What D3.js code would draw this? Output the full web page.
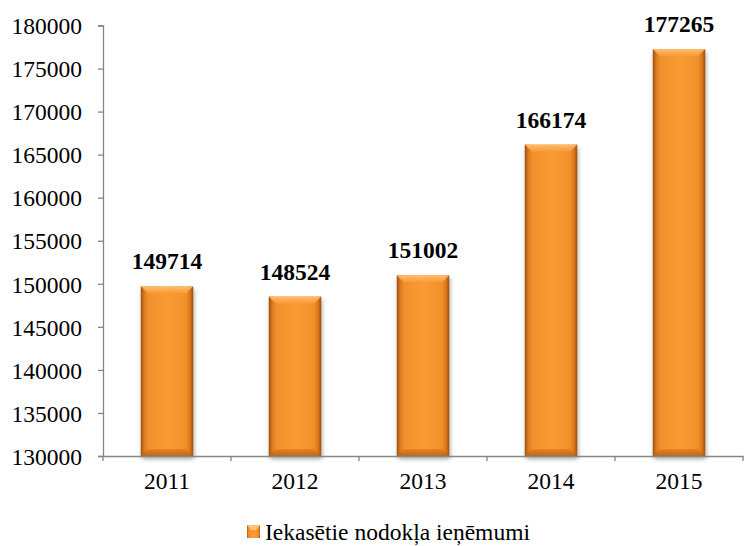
<!DOCTYPE html>
<html>
<head>
<meta charset="utf-8">
<script src="https://cdn.jsdelivr.net/npm/d3@7"></script>
<style>
  html, body { margin: 0; padding: 0; background: #fff; }
  svg { display: block; }
  svg text { font-family: "Liberation Serif", "Times New Roman", serif; fill: #000; }
</style>
</head>
<body>
<svg id="chart" width="744" height="546"></svg>
<script>
// Tax revenue collected, by year
const years = ["2011", "2012", "2013", "2014", "2015"];
const revenue = [149714, 148524, 151002, 166174, 177265];
const yTicks = [130000, 135000, 140000, 145000, 150000, 155000, 160000, 165000, 170000, 175000, 180000];
const seriesName = "Iekasētie nodokļa ieņēmumi";

const svg = d3.select("#chart");
const margin = { left: 103, right: 1, top: 25.5, bottom: 90 };
const W = 744, H = 546;
const serif = "'Liberation Serif', 'Times New Roman', serif";
const fs = 23.5;

const x = d3.scaleBand().domain(years).range([margin.left, W - margin.right]).paddingInner(0.59).paddingOuter(0.295);
const y = d3.scaleLinear().domain([130000, 180000]).range([H - margin.bottom, margin.top]);

const defs = svg.append("defs");
// horizontal shading of the bar body: dark rims, bright middle
const gH = defs.append("linearGradient").attr("id", "barH").attr("x1", 0).attr("x2", 1).attr("y1", 0).attr("y2", 0);
[[0, "#9c4e12"], [0.06, "#d8761f"], [0.14, "#f2902c"], [0.5, "#f99b33"], [0.86, "#f2902c"], [0.94, "#d8761f"], [1, "#9c4e12"]]
  .forEach(([o, c]) => gH.append("stop").attr("offset", o).attr("stop-color", c));
// bevelled top / bottom
const gTop = defs.append("linearGradient").attr("id", "barTop").attr("x1", 0).attr("x2", 0).attr("y1", 0).attr("y2", 1);
[[0, "#ffc27a"], [1, "#f99b33"]].forEach(([o, c]) => gTop.append("stop").attr("offset", o).attr("stop-color", c));
const gBot = defs.append("linearGradient").attr("id", "barBot").attr("x1", 0).attr("x2", 0).attr("y1", 0).attr("y2", 1);
[[0, "#e5801f"], [1, "#b85f16"]].forEach(([o, c]) => gBot.append("stop").attr("offset", o).attr("stop-color", c));
const shadow = defs.append("filter").attr("id", "shadow").attr("x", "-20%").attr("y", "-5%").attr("width", "140%").attr("height", "115%");
shadow.append("feGaussianBlur").attr("in", "SourceAlpha").attr("stdDeviation", 2.2);
shadow.append("feOffset").attr("dx", 1).attr("dy", 3).attr("result", "b");
shadow.append("feComponentTransfer").append("feFuncA").attr("type", "linear").attr("slope", 0.35);
const m = shadow.append("feMerge");
m.append("feMergeNode");
m.append("feMergeNode").attr("in", "SourceGraphic");

// bars
const data = years.map((yr, i) => ({ yr, v: revenue[i] }));
const bars = svg.append("g").selectAll("g").data(data).join("g");
const bw = x.bandwidth();
const bev = 7;
bars.append("rect")
  .attr("x", d => x(d.yr)).attr("y", d => y(d.v))
  .attr("width", bw).attr("height", d => y(130000) - y(d.v))
  .attr("fill", "url(#barH)").attr("filter", "url(#shadow)");
bars.append("path")
  .attr("d", d => {
    const x0 = x(d.yr), x1 = x0 + bw, t = y(d.v);
    return `M${x0},${t}L${x1},${t}L${x1 - bev},${t + bev}L${x0 + bev},${t + bev}Z`;
  })
  .attr("fill", "url(#barTop)").attr("opacity", 0.9);
bars.append("path")
  .attr("d", d => {
    const x0 = x(d.yr), x1 = x0 + bw, b = y(130000);
    return `M${x0},${b}L${x1},${b}L${x1 - bev},${b - bev}L${x0 + bev},${b - bev}Z`;
  })
  .attr("fill", "url(#barBot)").attr("opacity", 0.85);

// value labels
svg.append("g").selectAll("text").data(data).join("text")
  .attr("x", d => x(d.yr) + bw / 2).attr("y", d => y(d.v) - 17)
  .attr("text-anchor", "middle").attr("font-weight", "bold").attr("font-size", fs)
  .attr("font-family", serif)
  .text(d => d.v);

// axes
const yAxis = svg.append("g").attr("transform", `translate(${margin.left},0)`)
  .call(d3.axisLeft(y).tickValues(yTicks).tickSize(5).tickPadding(16).tickFormat(d3.format("d")));
yAxis.attr("font-family", serif).attr("font-size", fs);
yAxis.selectAll("text").attr("dy", "0.35em");

const xAxis = svg.append("g").attr("transform", `translate(0,${y(130000)})`)
  .call(d3.axisBottom(x).tickSize(0).tickPadding(16));
xAxis.attr("font-family", serif).attr("font-size", fs);
// category separators
const step = x.step();
xAxis.selectAll(".sep").data(d3.range(years.length + 1)).join("line")
  .attr("class", "sep")
  .attr("x1", i => margin.left + i * step).attr("x2", i => margin.left + i * step)
  .attr("y1", 0).attr("y2", 5);
svg.selectAll(".domain, .tick line, .sep").attr("stroke", "#868686").attr("stroke-width", 1.3);

// legend
const lg = svg.append("g").attr("transform", "translate(247,525)");
lg.append("rect").attr("width", 13).attr("height", 13).attr("fill", "url(#barH)");
lg.append("path").attr("d", "M0,0L13,0L9,5L4,5Z").attr("fill", "#ffc27a");
lg.append("text").attr("x", 18).attr("y", 15).attr("font-size", fs).attr("font-family", serif).text(seriesName);
</script>
</body>
</html>
